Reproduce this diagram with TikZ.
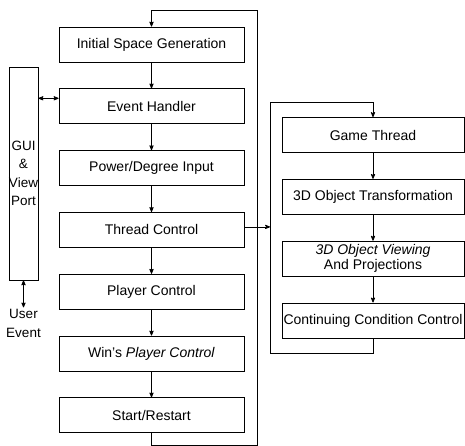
\documentclass[tikz,border=0pt]{standalone}
\usepackage{fontspec}
\setmainfont{Liberation Sans}
\usepackage{tikz}
\usetikzlibrary{arrows,positioning}
\tikzset{
    %Define standard arrow tip
    >=stealth',
    %Define style for boxes
    stage/.style={
           rectangle,
           draw=black, thick,
           minimum width=185pt,
           minimum height=35pt,
           inner sep=1pt,
           font=\fontsize{14}{16}\selectfont,
           text centered},
    gui/.style={
           rectangle,
           draw=black, thick,
           minimum width=29pt,
           minimum height=213pt,
           inner sep=0pt,
           align=center,
           font=\fontsize{13.5}{18.5}\selectfont},
    plain/.style={
           inner sep=1pt,
           align=center,
           font=\fontsize{13.5}{19}\selectfont},
    % Define arrow style
    pil/.style={
           ->,
           thick}
}
\begin{document}
\begin{tikzpicture}[x=1pt,y=1pt,thick]
\useasboundingbox (0,0) rectangle (465,-446);
 %nodes
\node[stage] (isg) at (151.5,-44.5) {Initial Space Generation};
\node[stage, below=26pt of isg] (eh) {Event Handler};
\node[stage, below=26pt of eh] (pdi) {Power/Degree Input};
\node[stage, below=26pt of pdi] (tc) {Thread Control};
\node[stage, below=26pt of tc] (pc) {Player Control};
\node[stage, below=26pt of pc] (wpc) {Win's \textit{Player Control}};
\node[stage, below=26pt of wpc] (sr) {Start/Restart};
\node[stage, minimum width=182pt] (gt) at (373,-135) {Game Thread};
\node[stage, minimum width=182pt, below=26pt of gt] (ot) {3D Object Transformation};
\node[stage, minimum width=182pt, below=26pt of ot, align=center,
      font=\fontsize{14}{15}\selectfont] (ov) {\textit{3D Object Viewing}\\And Projections};
\node[stage, minimum width=182pt, below=26pt of ov] (cc) {Continuing Condition Control};
\node[gui] (gui) at (23.5,-173.5) {GUI\\\&\\View\\Port};
\node[plain, below=27pt of gui] (ue) {User\\Event};
 %loop corners
\coordinate (lbot) at (257,-445);
\coordinate (ltop) at (257,-10);
\coordinate (rbot) at (270,-353);
\coordinate (rtop) at (270,-102);
 %connectors
\foreach \a/\b in {isg/eh,eh/pdi,pdi/tc,tc/pc,pc/wpc,wpc/sr,gt/ot,ot/ov,ov/cc}
    \draw[pil] (\a) -- (\b);
\draw[pil] (sr.south) |- (lbot) -- (ltop) -| (isg.north);
\draw[pil] (cc.south) |- (rbot) -- (rtop) -| (gt.north);
\draw[pil] ([yshift=3pt]tc.east) -- ([yshift=3pt]tc.east -| rtop);
\draw[<->] ([yshift=8pt]eh.west) -- ([yshift=8pt]eh.west -| gui.east);
\draw[<->] (gui.south) -- (ue.north);
\end{tikzpicture}
\end{document}
